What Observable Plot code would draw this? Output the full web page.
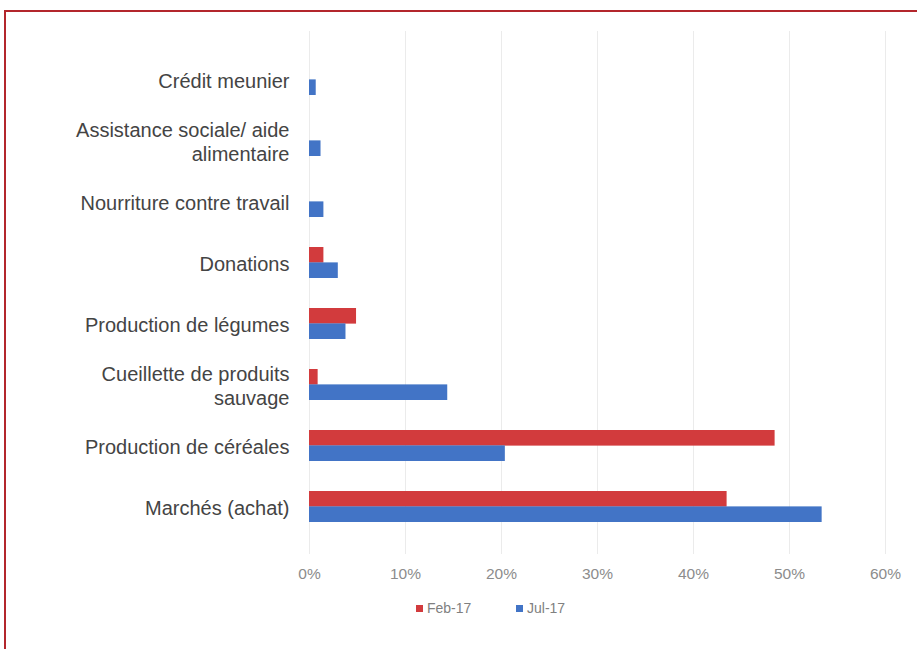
<!DOCTYPE html>
<html>
<head>
<meta charset="utf-8">
<script src="https://cdn.jsdelivr.net/npm/d3@7"></script>
<script src="https://cdn.jsdelivr.net/npm/@observablehq/plot@0.6"></script>
<style>
  html, body { margin: 0; padding: 0; background: #fff; overflow: hidden; width: 917px; height: 649px; }
  #frame { position: absolute; left: 4px; top: 10px; width: 1000px; height: 1000px; border: 2px solid #b3262c; box-sizing: border-box; }
  #chart { position: absolute; left: 0; top: 0; }
  #legend { position: absolute; left: 0; top: 598px; width: 917px; height: 20px; font-family: "Liberation Sans", Arial, sans-serif; font-size: 14px; color: #808080; }
  .item { position: absolute; top: 2px; line-height: 16px; white-space: nowrap; }
  .sw { display: inline-block; width: 7px; height: 7px; margin-right: 4px; vertical-align: 1px; }
</style>
</head>
<body>
<div id="frame"></div>
<div id="chart"></div>
<div id="legend"></div>
<script>
const categories = [
  "Crédit meunier",
  "Assistance sociale/ aide\nalimentaire",
  "Nourriture contre travail",
  "Donations",
  "Production de légumes",
  "Cueillette de produits\nsauvage",
  "Production de céréales",
  "Marchés (achat)"
];
const series = ["Feb-17", "Jul-17"];
const feb17 = [0, 0, 0, 0.015, 0.049, 0.009, 0.485, 0.435];
const jul17 = [0.007, 0.012, 0.015, 0.030, 0.038, 0.144, 0.204, 0.534];
const xTicks = [0, 0.1, 0.2, 0.3, 0.4, 0.5, 0.6];
const colors = ["#d23b3d", "#4274c6"];

const febData = categories.map((c, i) => ({category: c, series: series[0], value: feb17[i]}));
const julData = categories.map((c, i) => ({category: c, series: series[1], value: jul17[i]}));

const W = 917, H = 596, mT = 31, mB = 42, pad = 0.5;
const step = (H - mT - mB) / (categories.length - pad + 2 * pad);
const half = step * (1 - pad) / 2;

const chart = Plot.plot({
  width: W,
  height: H,
  marginLeft: 309,
  marginRight: 32,
  marginTop: mT,
  marginBottom: mB,
  style: {background: "transparent"},
  x: {domain: [0, 0.6], axis: null},
  y: {domain: categories, padding: pad, axis: null},
  color: {domain: series, range: colors},
  marks: [
    Plot.ruleX(xTicks, {stroke: "#ebebeb", strokeWidth: 1}),
    Plot.barX(febData, {x: "value", y: "category", fill: "series", insetBottom: half}),
    Plot.barX(julData, {x: "value", y: "category", fill: "series", insetTop: half}),
    Plot.axisY({
      anchor: "left",
      tickSize: 0,
      tickPadding: 20,
      fontSize: 20,
      lineHeight: 1.2,
      fill: "#444444",
      fontFamily: "Liberation Sans, Arial, sans-serif",
      label: null
    }),
    Plot.axisX(xTicks, {
      anchor: "bottom",
      tickSize: 0,
      tickPadding: 13,
      tickFormat: d3.format(".0%"),
      fontSize: 15.5,
      fill: "#8c8c8c",
      fontFamily: "Liberation Sans, Arial, sans-serif",
      label: null
    })
  ]
});
document.getElementById("chart").appendChild(chart);

const legend = document.getElementById("legend");
const lefts = [416, 516];
series.forEach((s, i) => {
  const d = document.createElement("div");
  d.className = "item";
  d.style.left = lefts[i] + "px";
  d.innerHTML = `<span class="sw" style="background:${colors[i]}"></span>${s}`;
  legend.appendChild(d);
});
</script>
</body>
</html>
